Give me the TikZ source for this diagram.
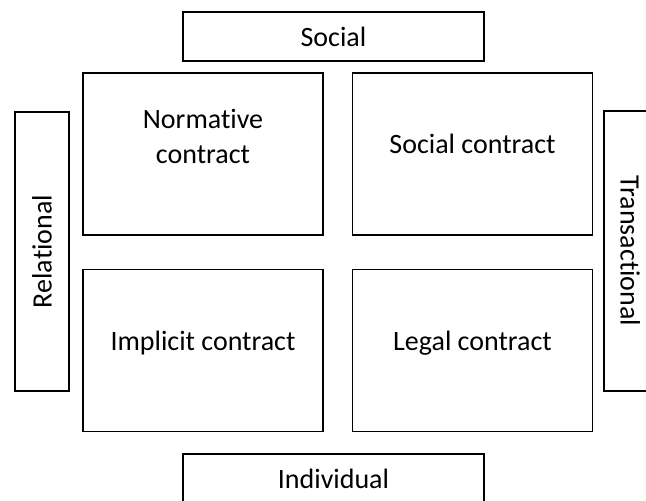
\documentclass[tikz,border=0pt]{standalone}
\usepackage{fontspec}
\setmainfont{Carlito}[Ligatures=NoCommon]
\usepackage{tikz}
\usetikzlibrary{positioning}

\begin{document}
\begin{tikzpicture}[
  x=1pt,y=-1pt,
  font=\fontsize{28}{35}\selectfont,
  quad/.style={draw=black,line width=1.1pt,minimum width=240pt,minimum height=162pt,
               align=center,inner sep=0pt,text height=19pt,text depth=20pt},
  axis/.style={draw=black,line width=1.1pt,minimum width=301pt,minimum height=49pt,
               inner sep=0pt,text height=19pt,text depth=0pt}
]
\useasboundingbox (0,0) rectangle (646,501);
% four contract types
\node[quad,text depth=0pt] (normc) at (203,154) {Normative\\contract};
\node[quad] (socc)   at (472.5,154) {Social contract};
\node[quad] (implc)  at (203,350.5) {Implicit contract};
\node[quad] (legalc) at (472.5,350.5) {Legal contract};
% axes round the grid
\node[axis] (social) at (333.5,36.5)  {Social};
\node[axis] (indiv)  at (333.5,478.5) {Individual};
\node[axis,rotate=90,minimum width=279pt,minimum height=54pt]  (relat) at (42,251.5) {Relational};
\node[axis,rotate=-90,minimum width=280pt,minimum height=52pt] (trans) at (630,251) {Transactional};
\end{tikzpicture}
\end{document}
